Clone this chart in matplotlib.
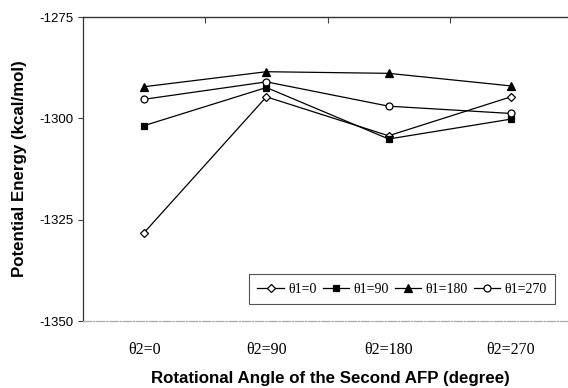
import matplotlib
matplotlib.use("Agg")
import matplotlib.pyplot as plt
import numpy as np

plt.rcParams["axes.unicode_minus"] = False

# data
categories = ["θ2=0", "θ2=90", "θ2=180", "θ2=270"]
series_names = ["θ1=0", "θ1=90", "θ1=180", "θ1=270"]
e_theta0 = [-1328.2, -1294.7, -1304.3, -1294.7]
e_theta90 = [-1301.8, -1292.4, -1305.1, -1300.2]
e_theta180 = [-1292.2, -1288.5, -1288.9, -1292.0]
e_theta270 = [-1295.3, -1291.0, -1297.0, -1298.8]
yticks = [-1275, -1300, -1325, -1350]

W, H = 568, 388
fig = plt.figure(figsize=(W / 100, H / 100), dpi=100)
ax = fig.add_axes([83 / W, (H - 321) / H, (572 - 83) / W, (321 - 17) / H])

x = np.arange(len(categories))
styles = [
    (e_theta0, dict(marker="D", mfc="white", ms=4.2)),
    (e_theta90, dict(marker="s", mfc="black", ms=5)),
    (e_theta180, dict(marker="^", mfc="black", ms=6)),
    (e_theta270, dict(marker="o", mfc="white", ms=5)),
]
for (vals, st), name in zip(styles, series_names):
    ax.plot(x, vals, color="black", lw=0.9, mec="black", mew=0.9, label=name, **st)

ax.set_xlim(-0.5, 3.5)
ax.set_ylim(-1350, -1275)
ax.set_yticks(yticks)
ax.set_xticks(x)
ax.set_xticklabels(categories, family="Liberation Serif", fontsize=11.5)
ax.tick_params(axis="x", length=0, pad=15)
ax.tick_params(axis="y", length=3.5, width=0.8, color="#444", labelsize=9.5, pad=3)
for lab in ax.get_yticklabels():
    lab.set_family("Liberation Sans")

ax.spines["right"].set_visible(False)
ax.spines["left"].set_color("#333")
ax.spines["left"].set_linewidth(0.9)
ax.spines["top"].set_color("#333")
ax.spines["top"].set_linewidth(1.0)
ax.spines["bottom"].set_color("#aaa")
ax.spines["bottom"].set_linestyle("-.")
ax.spines["bottom"].set_linewidth(0.9)

# category separators on the top line
sec = ax.secondary_xaxis("top")
sec.set_xticks(x[:-1] + 0.5)
sec.set_xticklabels([])
sec.tick_params(direction="in", length=4, width=0.8, color="#444")
sec.spines["top"].set_visible(False)

leg = ax.legend(ncol=4, loc="lower left",
                bbox_to_anchor=(249 / W, (H - 304) / H), bbox_transform=fig.transFigure,
                prop={"family": "Liberation Serif", "size": 10},
                frameon=True, fancybox=False, edgecolor="#555", framealpha=1,
                handlelength=1.9, handletextpad=0.3, columnspacing=0.45,
                borderpad=0.6, borderaxespad=0)
leg.get_frame().set_linewidth(0.8)

fig.text(20 / W, 1 - 169 / H, "Potential Energy (kcal/mol)", rotation=90,
         ha="center", va="center", family="Liberation Sans", weight="bold", fontsize=12.2)
fig.text(330 / W, 1 - 378 / H, "Rotational Angle of the Second AFP (degree)",
         ha="center", va="center", family="Liberation Sans", weight="bold", fontsize=12.2)

fig.savefig("out.png", dpi=100)
